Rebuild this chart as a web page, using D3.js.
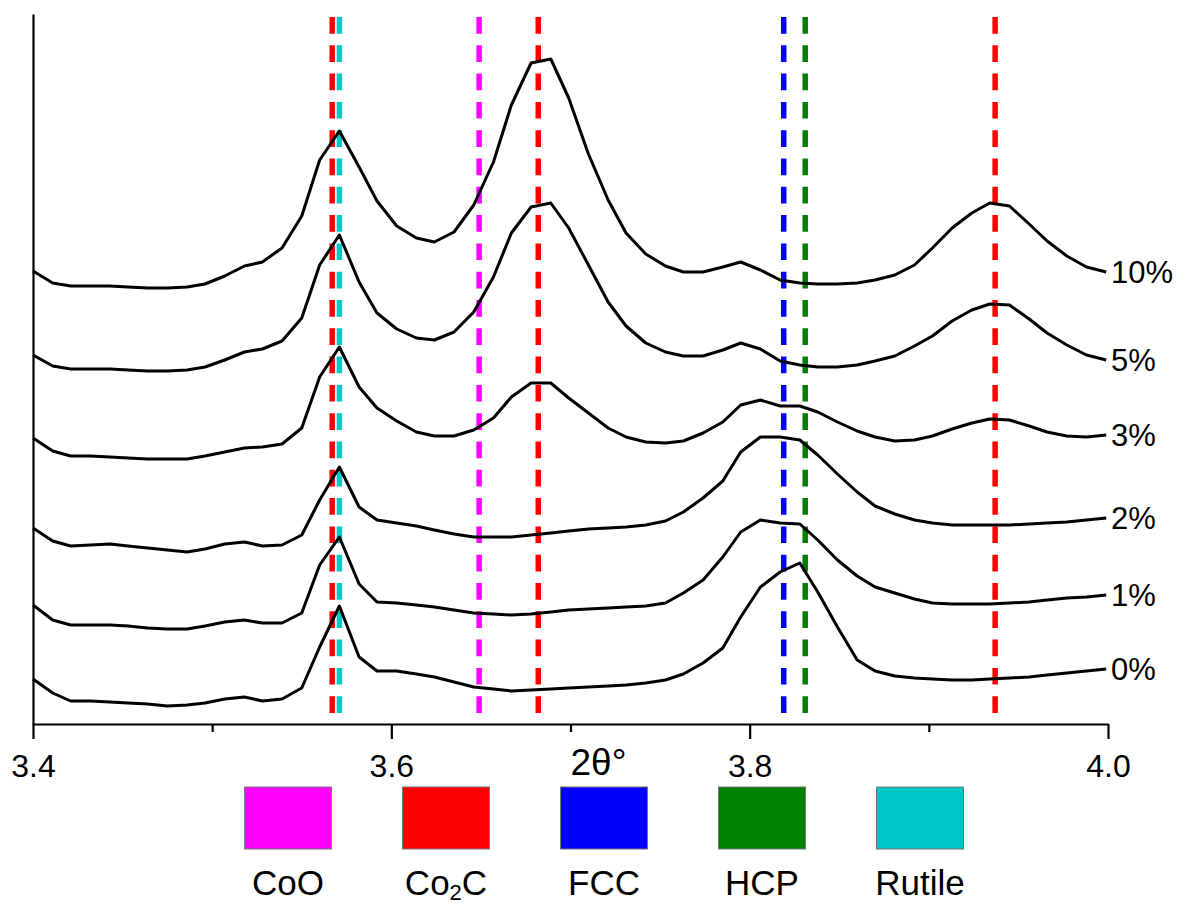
<!DOCTYPE html>
<html>
<head>
<meta charset="utf-8">
<script src="https://cdn.jsdelivr.net/npm/d3@7"></script>
<style>
  body { margin: 0; background: #fff; }
  text { font-family: 'Liberation Sans', Arial, sans-serif; fill: #000; }
</style>
</head>
<body>
<svg id="chart"></svg>
<script>
// 2θ grid shared by all patterns
const twoTheta = [
  3.400, 3.411, 3.421, 3.432, 3.443, 3.453, 3.464, 3.475, 3.486, 3.496,
  3.507, 3.518, 3.528, 3.539, 3.550, 3.560, 3.571, 3.582, 3.592, 3.603,
  3.614, 3.624, 3.635, 3.646, 3.657, 3.667, 3.678, 3.689, 3.699, 3.710,
  3.721, 3.731, 3.742, 3.753, 3.763, 3.774, 3.785, 3.795, 3.806, 3.817,
  3.828, 3.838, 3.849, 3.860, 3.870, 3.881, 3.892, 3.902, 3.913, 3.924,
  3.934, 3.945, 3.956, 3.966, 3.977, 3.988, 3.999
];

// stacked intensities (a.u., offsets included)
const pct0 = [45,31,23,23,22,21,20,18,19,21, 25,27,23,25,36,77,118,67,53,53,
  50,47,42,37,35,33,34,35,36,37, 38,39,41,44,50,61,76,107,137,152,
  161,132,97,64,53,48,46,45,44,44, 45,46,47,49,51,53,55];
const pct1 = [119,104,99,99,99,98,96,95,95,98, 102,104,101,101,111,159,187,140,122,121,
  119,117,114,111,110,109,110,112,114,115, 116,117,118,121,131,144,167,192,204,201,
  200,184,164,148,137,131,125,121,120,120, 120,121,122,124,126,127,129];
const pct2 = [196,183,178,179,180,178,176,174,172,175, 180,182,178,179,189,224,257,217,204,201,
  198,194,190,187,187,187,189,191,193,195, 196,197,199,203,212,226,243,272,287,287,
  284,269,250,232,218,210,204,201,199,199, 199,199,200,201,202,204,206];
const pct3 = [286,273,268,268,267,266,265,265,265,268, 272,276,277,280,296,347,377,337,316,303,
  292,288,288,294,306,327,341,341,326,311, 296,287,282,281,283,291,302,319,324,318,
  318,312,302,293,287,283,284,288,295,301, 305,304,298,292,288,287,289];
const pct5 = [369,358,355,355,355,354,353,353,354,357, 364,372,375,383,406,459,489,442,411,395,
  386,384,392,412,447,491,517,521,496,459, 422,398,381,372,368,368,374,381,375,363,
  359,357,357,359,363,368,378,388,403,414, 420,419,405,391,379,369,364];
const pct10 = [453,441,438,438,438,437,436,436,437,440, 448,458,462,476,508,564,593,557,523,498,
  486,482,492,519,562,619,661,665,626,570, 524,491,470,458,452,452,457,462,454,444,
  441,440,440,441,444,449,459,476,496,511, 521,518,500,483,468,457,452];

const seriesNames = ['0%', '1%', '2%', '3%', '5%', '10%'];
const seriesValues = [pct0, pct1, pct2, pct3, pct5, pct10];

// reference phases
const phases = ['CoO', 'Co2C', 'FCC', 'HCP', 'Rutile'];
const phaseColors = ['#ff00ff', '#ff0000', '#0000ff', '#008000', '#00c8c8'];
const phasePeaks = [[3.649], [3.567, 3.682, 3.937], [3.819], [3.831], [3.571]];

const majorTicks = [3.4, 3.6, 3.8, 4.0];
const minorTicks = [3.5, 3.7, 3.9];

const width = 1182;
const height = 905;

const svg = d3.select('#chart')
  .attr('width', width)
  .attr('height', height);

const x = d3.scaleLinear().domain([3.4, 4.0]).range([33, 1108]);
const y = d3.scaleLinear().domain([0, 710]).range([724, 14]);

// dashed reference lines
const refs = [];
phases.forEach((p, i) => phasePeaks[i].forEach(v => refs.push({ p, v, c: phaseColors[i] })));

svg.append('g')
  .selectAll('line')
  .data(refs)
  .enter().append('line')
    .attr('x1', d => x(d.v))
    .attr('x2', d => x(d.v))
    .attr('y1', y(707))
    .attr('y2', y(0))
    .attr('stroke', d => d.c)
    .attr('stroke-width', 5.5)
    .attr('stroke-dasharray', '16.7 11.6');

// axes
const xAxis = svg.append('g')
  .attr('transform', 'translate(0,' + y(0) + ')')
  .call(d3.axisBottom(x).tickValues(majorTicks).tickSize(15).tickSizeOuter(0).tickFormat(d3.format('.1f')));

xAxis.selectAll('text')
  .attr('y', 53)
  .attr('dy', null)
  .style('font-size', '32px');

svg.append('g')
  .attr('transform', 'translate(0,' + y(0) + ')')
  .call(d3.axisBottom(x).tickValues(minorTicks).tickSize(8).tickSizeOuter(0).tickFormat(''))
  .select('.domain').remove();

svg.append('g')
  .attr('transform', 'translate(' + x(3.4) + ',0)')
  .call(d3.axisLeft(y).tickValues([]).tickSizeOuter(0));

svg.selectAll('.domain, .tick line')
  .attr('stroke', '#000')
  .attr('stroke-width', 2.2);

svg.append('text')
  .attr('x', (x(3.4) + x(4.0)) / 2 + 28)
  .attr('y', 775)
  .attr('text-anchor', 'middle')
  .style('font-size', '37px')
  .text('2θ°');

// patterns
const line = d3.line()
  .x((d, i) => x(twoTheta[i]))
  .y(d => y(d));

svg.append('g')
  .selectAll('path')
  .data(seriesValues)
  .enter().append('path')
    .attr('d', line)
    .attr('fill', 'none')
    .attr('stroke', '#000')
    .attr('stroke-width', 3)
    .attr('stroke-linejoin', 'round');

svg.append('g')
  .selectAll('text')
  .data(seriesNames)
  .enter().append('text')
    .attr('x', x(4.0) + 3)
    .attr('y', (d, i) => y(seriesValues[i][seriesValues[i].length - 1]))
    .attr('dy', '0.36em')
    .style('font-size', '31px')
    .text(d => d);

// legend
const lx = d3.scalePoint().domain(phases).range([288, 920]);

const legend = svg.append('g')
  .selectAll('g')
  .data(phases)
  .enter().append('g')
    .attr('transform', d => 'translate(' + lx(d) + ',0)');

legend.append('rect')
  .attr('x', -43.5)
  .attr('y', 787)
  .attr('width', 87)
  .attr('height', 62)
  .attr('fill', (d, i) => phaseColors[i])
  .attr('stroke', '#777')
  .attr('stroke-width', 1);

const ltext = legend.append('text')
  .attr('y', 895)
  .attr('text-anchor', 'middle')
  .style('font-size', '35px');

ltext.each(function(d) {
  const t = d3.select(this);
  if (d === 'Co2C') {
    t.append('tspan').text('Co');
    t.append('tspan').attr('dy', 5).style('font-size', '22px').text('2');
    t.append('tspan').attr('dy', -5).text('C');
  } else {
    t.text(d);
  }
});
</script>
</body>
</html>
